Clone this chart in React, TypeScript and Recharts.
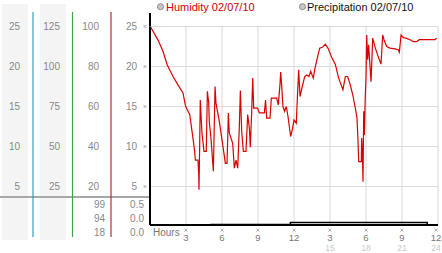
import { ComposedChart, Line, XAxis, YAxis, CartesianGrid } from 'recharts';

// humidity readings, hour of day -> value
const hours = [
  0.06, 0.67, 1.08, 1.44, 1.92, 2.33, 2.75, 2.94, 3.03, 3.17,
  3.31, 3.58, 3.72, 3.78, 4.0, 4.06, 4.08, 4.14, 4.19, 4.33,
  4.5, 4.69, 4.78, 4.89, 4.94, 5.08, 5.28, 5.42, 5.5, 5.78,
  6.06, 6.28, 6.42, 6.53, 6.61, 6.75, 6.89, 7.03, 7.17, 7.31,
  7.44, 7.53, 7.64, 7.78, 8.0, 8.14, 8.28, 8.36, 8.47, 8.56,
  8.64, 8.97, 9.11, 9.53, 9.63, 9.72, 10.0, 10.11, 10.56, 10.69,
  10.83, 10.89, 10.97, 11.08, 11.22, 11.36, 11.5, 11.72, 11.86, 12.0,
  12.19, 12.28, 12.39, 12.5, 12.69, 12.89, 13.06, 13.25, 13.39, 13.61,
  13.75, 13.94, 14.14, 14.36, 14.61, 14.83, 15.17, 15.44, 15.72, 16.08,
  16.28, 16.47, 16.69, 16.89, 17.11, 17.25, 17.33, 17.39, 17.61, 17.64,
  17.69, 17.75, 17.81, 17.86, 17.94, 18.0, 18.06, 18.14, 18.22, 18.42,
  18.56, 18.78, 19.06, 19.25, 19.39, 19.5, 19.72, 20.0, 20.42, 20.69,
  20.78, 20.92, 21.11, 21.33, 21.67, 21.94, 22.22, 22.44, 23.75, 23.89,
];
const humidity = [
  24.9, 23.3, 21.9, 20.2, 18.75, 17.7, 16.7, 15.2, 14.8, 14.4,
  14.0, 11.05, 9.4, 8.3, 8.3, 6.55, 4.6, 10.2, 15.8, 11.7,
  9.4, 9.4, 16.9, 15.5, 13.1, 11.05, 6.9, 17.5, 15.4, 13.1,
  10.2, 7.9, 7.9, 14.2, 11.7, 11.05, 10.4, 7.3, 8.3, 7.3,
  12.3, 17.0, 11.9, 9.4, 9.4, 14.0, 12.3, 9.9, 14.2, 18.55,
  14.8, 14.8, 14.2, 14.2, 15.8, 13.55, 13.55, 16.05, 16.05, 15.2,
  17.7, 19.3, 17.7, 15.0, 14.4, 15.0, 13.75, 11.25, 12.1, 13.3,
  12.9, 16.05, 19.6, 16.25, 17.5, 18.75, 18.95, 18.75, 19.4, 18.55,
  19.8, 21.05, 22.3, 22.4, 22.8, 22.3, 21.05, 20.3, 18.55, 17.1,
  18.75, 18.75, 17.7, 16.5, 14.8, 13.55, 10.85, 8.1, 8.1, 11.05,
  9.6, 5.6, 14.4, 11.45, 16.25, 18.55, 23.95, 20.85, 22.7, 18.1,
  23.55, 22.3, 21.05, 20.3, 23.95, 23.35, 22.5, 22.3, 22.2, 22.1,
  21.8, 23.95, 23.6, 23.55, 23.35, 23.1, 23.1, 23.35, 23.35, 23.55,
];

const precipHours = [0, 5.1, 11.7, 23.1, 24];
const precip = [0, 0.1, 0.5, 0, 0];

const seriesNames = ['Humidity 02/07/10', 'Precipitation 02/07/10'];

const hourTicks = [3, 6, 9, 12, 15, 18, 21, 24];
const hourLabels = ['3', '6', '9', '12', '3', '6', '9', '12'];
const hourLabels24 = ['', '', '', '', '15', '18', '21', '24'];

const humTicks = [5, 10, 15, 20, 25];
const col1Ticks = [5, 10, 15, 20, 25];
const col2Ticks = [25, 50, 75, 100, 125];
const col3Ticks = [20, 40, 60, 80, 100];

const statsCol3 = ['99', '94', '18'];
const statsCol4 = ['0.5', '0.0', '0.0'];

const humData = hours.map((h, i) => ({ h, v: humidity[i] }));
const precipData = precipHours.map((h, i) => ({ h, p: precip[i] }));

const FONT = '"Liberation Sans", Arial, sans-serif';

// tiny reference-mark glyph used next to every tick
function RefMark({ x, y }: { x: number; y: number }) {
  return (
    <g stroke="#9a9a9a" strokeWidth={0.8} fill="#9a9a9a">
      <path d={`M${x - 1.5},${y - 1.5}L${x + 1.5},${y + 1.5}M${x + 1.5},${y - 1.5}L${x - 1.5},${y + 1.5}`} />
    </g>
  );
}

const makeColTick = (gap: number, mark: boolean) => (props: any) => {
  const { x, y, payload } = props;
  return (
    <g>
      <text x={x - gap} y={y} textAnchor="end" dominantBaseline="central" fontSize={10} fill="#888" fontFamily={FONT}>
        {payload.value}
      </text>
      {mark && <RefMark x={x - 5} y={y} />}
    </g>
  );
};

const HourTick = (props: any) => {
  const { x, y, payload } = props;
  const i = hourTicks.indexOf(payload.value);
  const tx = i === hourTicks.length - 1 ? x - 2 : x;
  return (
    <g>
      <RefMark x={tx} y={y + 5} />
      <text x={tx} y={y + 12.5} textAnchor="middle" dominantBaseline="central" fontSize={9.5} fill="#777" fontFamily={FONT}>
        {hourLabels[i]}
      </text>
      {hourLabels24[i] && (
        <text x={tx} y={y + 22.5} textAnchor="middle" dominantBaseline="central" fontSize={8.5} fill="#c8c8c8" fontFamily={FONT}>
          {hourLabels24[i]}
        </text>
      )}
    </g>
  );
};

export default function App() {
  const statY = [204, 218.3, 232.7];
  return (
    <div style={{ position: 'absolute', left: 0, top: 0, width: 442, height: 253, background: '#fff' }}>
      <svg width={442} height={253} style={{ position: 'absolute', left: 0, top: 0 }}>
        <rect x={2} y={4} width={26} height={236} fill="#f4f4f4" />
        <rect x={40} y={4} width={26} height={236} fill="#f4f4f4" />
        <rect x={0} y={196} width={150} height={2} fill="#a8a8a8" />
        <line x1={33} x2={33} y1={12} y2={237} stroke="#2e9fc4" strokeWidth={1.2} />
        <line x1={72.5} x2={72.5} y1={12} y2={237} stroke="#3aa844" strokeWidth={1.2} />
        <line x1={111} x2={111} y1={12} y2={237} stroke="#b82e2e" strokeWidth={1.2} />
        <line x1={150} x2={150} y1={13} y2={28} stroke="#000" strokeWidth={2} />
        {statsCol3.map((s, i) => (
          <text key={'a' + i} x={105} y={statY[i]} textAnchor="end" dominantBaseline="central" fontSize={10} fill="#888" fontFamily={FONT}>
            {s}
          </text>
        ))}
        {statsCol4.map((s, i) => (
          <text key={'b' + i} x={144} y={statY[i]} textAnchor="end" dominantBaseline="central" fontSize={10} fill="#888" fontFamily={FONT}>
            {s}
          </text>
        ))}
        <text x={153} y={232} dominantBaseline="central" fontSize={10} fill="#777" fontFamily={FONT}>
          Hours
        </text>
        {/* legend */}
        <circle cx={160.5} cy={6.7} r={3} fill="#c8c8c8" stroke="#8a8a8a" strokeWidth={1} />
        <text x={166} y={7} dominantBaseline="central" fontSize={11} fill="#cc0000" fontFamily={FONT}>
          {seriesNames[0]}
        </text>
        <circle cx={302.5} cy={6.7} r={3} fill="#c8c8c8" stroke="#8a8a8a" strokeWidth={1} />
        <text x={307} y={7} dominantBaseline="central" fontSize={11} fill="#111" fontFamily={FONT}>
          {seriesNames[1]}
        </text>
      </svg>
      <div style={{ position: 'absolute', left: 0, top: 0 }}>
        <ComposedChart width={442} height={253} margin={{ top: 26.5, right: 4, bottom: 0, left: 0 }}>
          <CartesianGrid yAxisId="a-hum" stroke="#dadada" />
          <XAxis
            dataKey="h"
            type="number"
            domain={[0, 24]}
            allowDataOverflow
            ticks={hourTicks}
            interval={0}
            height={28}
            tickSize={0}
            tickMargin={0}
            tick={HourTick}
            axisLine={{ stroke: '#000', strokeWidth: 2 }}
            tickLine={false}
          />
          {/* left axes are laid out by id order, the first one next to the plot */}
          <YAxis
            yAxisId="a-hum"
            type="number"
            domain={[0.19, 25]}
            allowDataOverflow
            ticks={humTicks}
            interval={0}
            width={39}
            tickSize={0}
            tickMargin={0}
            tick={makeColTick(13, true)}
            tickLine={false}
            axisLine={{ stroke: '#000', strokeWidth: 2 }}
          />
          <YAxis
            yAxisId="b-c3"
            type="number"
            domain={[0.76, 100]}
            allowDataOverflow
            ticks={col3Ticks}
            interval={0}
            width={39}
            tickSize={0}
            tickMargin={0}
            tick={makeColTick(12, false)}
            tickLine={false}
            axisLine={false}
          />
          <YAxis
            yAxisId="c-c2"
            type="number"
            domain={[0.95, 125]}
            allowDataOverflow
            ticks={col2Ticks}
            interval={0}
            width={39}
            tickSize={0}
            tickMargin={0}
            tick={makeColTick(12, false)}
            tickLine={false}
            axisLine={false}
          />
          <YAxis
            yAxisId="d-c1"
            type="number"
            domain={[0.19, 25]}
            allowDataOverflow
            ticks={col1Ticks}
            interval={0}
            width={33}
            tickSize={0}
            tickMargin={0}
            tick={makeColTick(13, false)}
            tickLine={false}
            axisLine={false}
          />
          <YAxis yAxisId="z-precip" type="number" domain={[0, 40]} allowDataOverflow hide />
          <Line
            data={precipData}
            dataKey="p"
            yAxisId="z-precip"
            type="stepAfter"
            stroke="#000"
            strokeWidth={1.5}
            dot={false}
            isAnimationActive={false}
          />
          <Line
            data={humData}
            dataKey="v"
            yAxisId="a-hum"
            type="linear"
            stroke="#d90000"
            strokeWidth={1.2}
            dot={false}
            isAnimationActive={false}
          />
        </ComposedChart>
      </div>
    </div>
  );
}
